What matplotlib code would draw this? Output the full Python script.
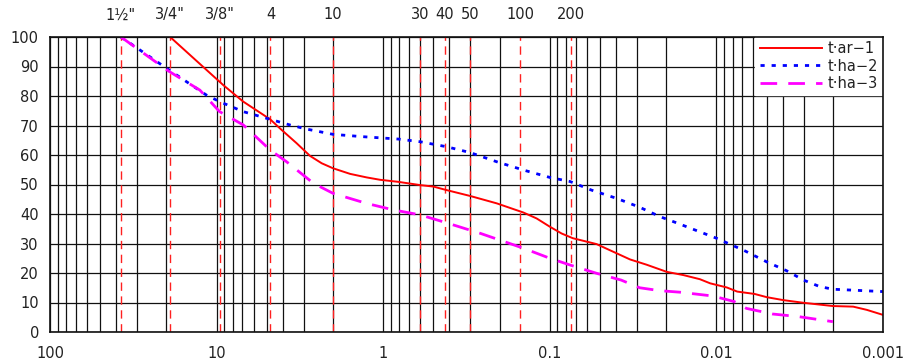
import matplotlib
matplotlib.use("Agg")
import matplotlib.pyplot as plt
from matplotlib.ticker import NullFormatter, FixedLocator

# Sieve sizes (mm) and labels
sieve_mm = [37.5, 19.0, 9.5, 4.75, 2.0, 0.6, 0.425, 0.3, 0.15, 0.075]
sieve_labels = ['1½"', '3/4"', '3/8"', '4', '10', '30', '40', '50', '100', '200']

# t-ar-1
ar1_d = [19.0, 9.12, 6.92, 4.77, 4.07, 3.31, 2.75, 2.34, 2.0, 1.58, 1.256, 1.045, 0.812,
         0.6, 0.5, 0.416, 0.3, 0.208, 0.144, 0.12, 0.1, 0.085, 0.0728, 0.0524, 0.0416,
         0.033, 0.0262, 0.0199, 0.0158, 0.01257, 0.0109, 0.00866, 0.0075, 0.0059,
         0.00498, 0.00396, 0.003, 0.002, 0.00151, 0.00125, 0.001]
ar1_p = [100, 83.7, 78.1, 72.1, 68.5, 64.0, 59.7, 57.2, 55.5, 53.6, 52.4, 51.6, 50.9,
         49.8, 49.3, 48.1, 46.1, 43.6, 40.5, 38.5, 35.7, 33.4, 31.8, 29.8, 27.2,
         24.6, 22.8, 20.4, 19.3, 17.9, 16.5, 15.1, 13.7, 12.9,
         11.8, 10.8, 9.9, 8.8, 8.6, 7.5, 5.8]

# t-ha-2
ha2_d = [37.5, 19.5, 11.5, 9.6, 6.92, 4.77, 3.64, 2.89, 2.0, 1.32, 0.81, 0.6, 0.416,
         0.3, 0.208, 0.144, 0.1, 0.0755, 0.0562, 0.0397, 0.0289, 0.0218, 0.0166,
         0.0142, 0.01, 0.0068, 0.005, 0.0038, 0.003, 0.0024, 0.002, 0.001]
ha2_p = [100, 89.0, 80.3, 78.1, 74.7, 72.1, 70.2, 68.8, 67.0, 66.2, 65.4, 64.5, 62.8,
         60.8, 57.7, 54.9, 52.4, 51.0, 48.1, 45.3, 42.3, 39.1, 36.6,
         35.1, 31.8, 27.6, 23.8, 20.8, 17.6, 15.4, 14.5, 13.7]

# t-ha-3
ha3_d = [37.5, 19.5, 12.6, 9.6, 6.92, 4.77, 3.8, 2.62, 2.0, 1.26, 0.87, 0.6, 0.416,
         0.26, 0.144, 0.1, 0.0755, 0.0524, 0.0373, 0.0289, 0.0218, 0.0166, 0.0105,
         0.0078, 0.0066, 0.0046, 0.0032, 0.002]
ha3_p = [100, 88.5, 82.0, 74.7, 70.2, 61.7, 57.7, 50.4, 47.0, 43.6, 41.4, 39.7, 37.0,
         33.4, 28.4, 25.0, 22.7, 19.9, 17.6, 15.0, 14.0, 13.5, 12.2,
         10.3, 8.0, 6.1, 5.2, 3.5]

series_names = ['t·ar−1', 't·ha−2', 't·ha−3']
y_ticks = [0, 10, 20, 30, 40, 50, 60, 70, 80, 90, 100]
x_major = [100, 10, 1, 0.1, 0.01, 0.001]
x_major_labels = ['100', '10', '1', '0.1', '0.01', '0.001']

W, H = 907, 364
fig = plt.figure(figsize=(W / 100, H / 100), dpi=100)
ax = fig.add_axes([50 / W, (H - 332) / H, (883 - 50) / W, (332 - 37) / H])

ax.set_xscale('log')
ax.set_xlim(100, 0.001)
ax.set_ylim(0, 100)

ax.yaxis.set_major_locator(FixedLocator(y_ticks))
ax.set_yticklabels([str(v) for v in y_ticks])
ax.xaxis.set_major_locator(FixedLocator(x_major))
ax.set_xticklabels(x_major_labels)
ax.xaxis.set_minor_formatter(NullFormatter())
ax.tick_params(axis='both', which='both', length=0, labelsize=10.5, colors='#222222')
ax.tick_params(axis='x', pad=10)
ax.tick_params(axis='y', pad=8)

ax.grid(True, which='both', axis='x', color='#111111', lw=0.9)
ax.grid(True, which='major', axis='y', color='#111111', lw=0.9)
ax.set_axisbelow(True)
for s in ax.spines.values():
    s.set_color('#111111')
    s.set_linewidth(1.2)
    s.set_zorder(6)

for d, lab in zip(sieve_mm, sieve_labels):
    ax.axvline(d, color='#ff2020', lw=1.0, dashes=(6, 4), zorder=2)
    ax.text(d, 1.075, lab, transform=ax.get_xaxis_transform(), ha='center', va='center',
            fontsize=10.5, color='#222222')

ax.plot(ar1_d, ar1_p, color='#ff0000', lw=1.4, label=series_names[0], zorder=3)
ax.plot(ha2_d, ha2_p, color='#0000ff', lw=2.0, dashes=(1.5, 2.5), label=series_names[1], zorder=3)
ax.plot(ha3_d, ha3_p, color='#ff00ff', lw=2.0, dashes=(6, 4), label=series_names[2], zorder=3)

leg = ax.legend(loc='upper right', frameon=True, fontsize=10.5, handlelength=4.3,
                borderaxespad=0.0, labelspacing=0.15, handletextpad=0.4, borderpad=0.3,
                prop={'size': 10.5})
leg.get_frame().set_facecolor('white')
leg.get_frame().set_edgecolor('white')
leg.get_frame().set_alpha(1)
leg.get_frame().set_boxstyle('square', pad=0)
leg.set_zorder(5)
for t in leg.get_texts():
    t.set_color('#222222')

fig.savefig('out.png', dpi=100)
